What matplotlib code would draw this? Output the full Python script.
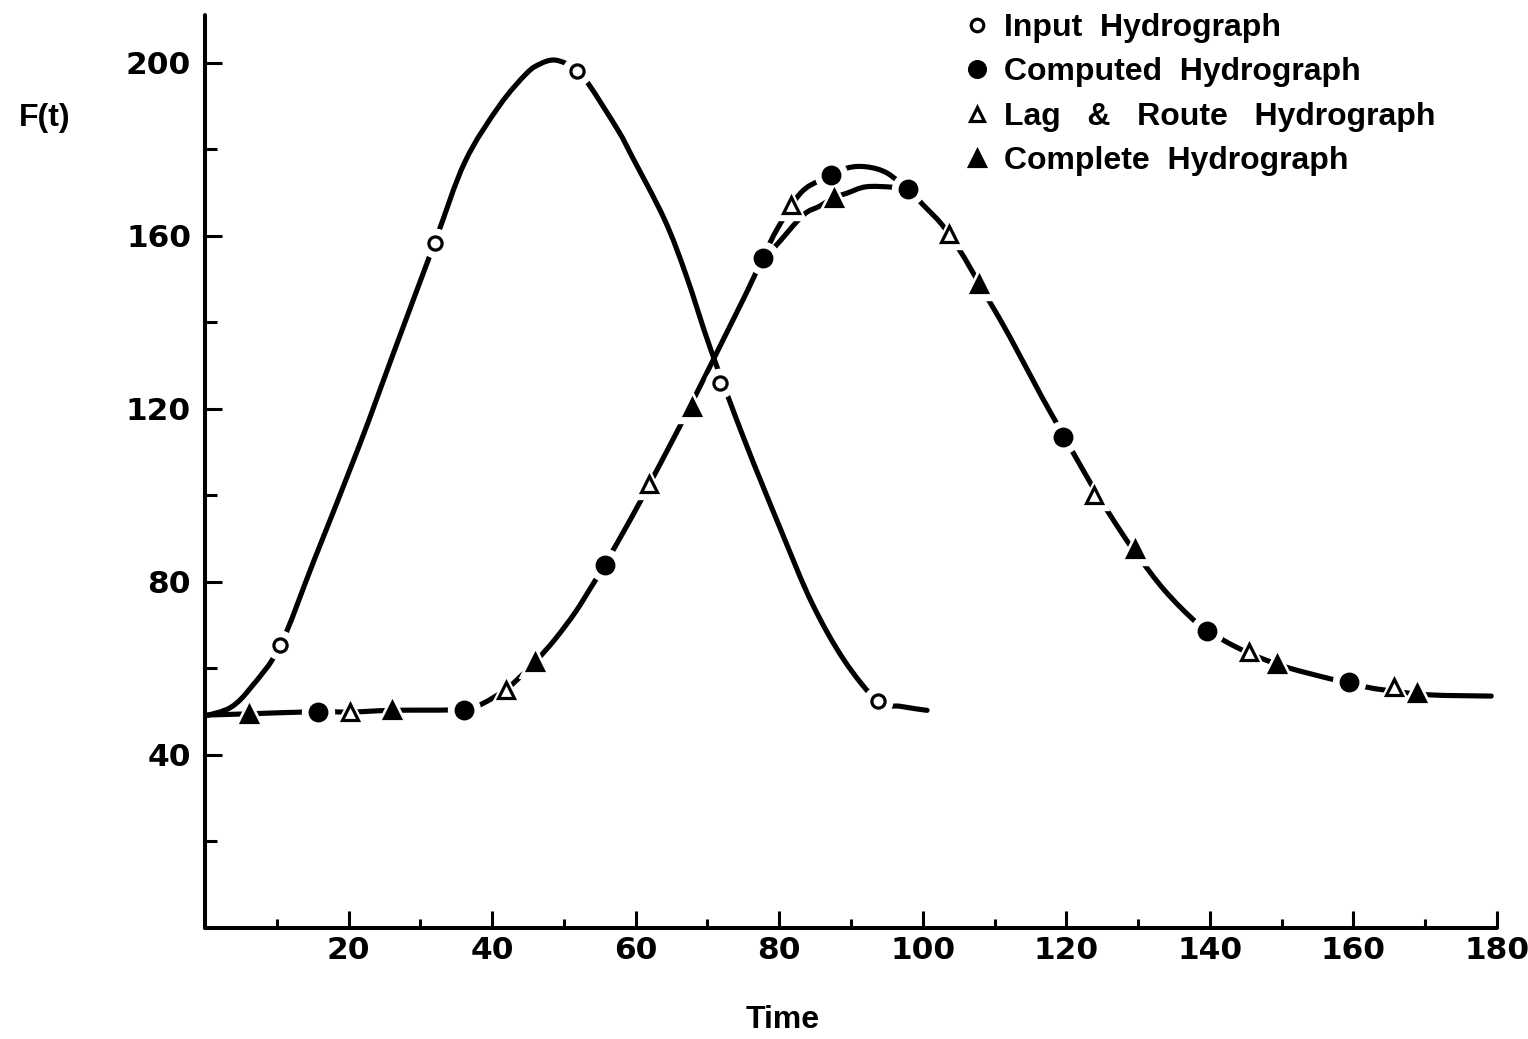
import matplotlib
matplotlib.use("Agg")
import matplotlib.pyplot as plt
from matplotlib.ticker import FixedLocator
from matplotlib.path import Path
from matplotlib.patches import PathPatch

plt.rcParams['font.family'] = ['Liberation Sans', 'DejaVu Sans']
plt.rcParams['font.weight'] = 'bold'

# ---------------- data ----------------
# curve of the input hydrograph
input_curve_t = [0, 3.6, 6.5, 10.5, 15.2, 21.5, 26.4, 32.0, 36.2, 41.0, 44.8, 46.7,
                 48.5, 50.3, 51.8, 53.5, 57.6, 59.4, 64.0, 67.0, 70.5, 75.2, 80.2,
                 84.5, 89.0, 93.7, 97.0, 100.6]
input_curve_f = [49.0, 51.0, 55.8, 65.3, 85.0, 111.5, 133.5, 158.4, 177.0, 190.0, 197.5, 199.7,
                 200.6, 199.8, 198.1, 194.9, 184.2, 178.6, 163.8, 151.0, 133.5, 112.6, 92.1,
                 75.3, 62.0, 52.5, 51.2, 50.3]

# curve through the routed hydrographs (lower branch = complete)
complete_curve_t = [0, 6.1, 15.8, 20.2, 26.0, 36.1, 38.6, 41.9, 44.0, 46.0, 48.8, 51.6,
                    53.8, 55.7, 59.3, 61.8, 64.6, 67.8, 72.3, 75.2, 77.8, 79.5, 83.3,
                    85.6, 87.6, 89.4, 92.1, 95.8, 97.9, 100.0, 102.7, 105.0, 106.7,
                    109.4, 112.1, 116.6, 119.4, 120.9, 123.8, 125.5, 128.0, 129.7,
                    133.7, 138.2, 141.4, 143.7, 146.9, 151.0, 157.0, 161.2, 163.9,
                    170.4, 179.2]
complete_curve_f = [49.2, 49.5, 50.0, 49.9, 50.3, 50.5, 51.8, 55.1, 58.2, 61.5, 66.8, 73.0,
                    78.8, 84.0, 94.5, 102.2, 111.0, 121.3, 136.3, 146.0, 154.8, 157.6, 164.7,
                    166.8, 168.8, 169.8, 171.3, 171.2, 170.7, 167.2, 162.5, 157.0, 152.3,
                    144.5, 136.7, 122.7, 114.5, 110.0, 101.6, 97.0, 90.6, 86.6,
                    78.0, 70.5, 67.0, 64.9, 62.5, 60.1, 57.5, 55.9, 55.1,
                    53.9, 53.6]

# upper branch near the peak (computed hydrograph)
computed_peak_t = [77.8, 79.5, 82.9, 85.9, 89.4, 92.2, 95.0, 97.9]
computed_peak_f = [154.8, 160.9, 169.7, 173.0, 175.6, 175.9, 174.5, 170.7]

# plotted symbols
input_t = [10.5, 32.0, 51.8, 71.8, 93.7]
input_f = [65.3, 158.4, 198.1, 126.0, 52.5]

computed_t = [15.8, 36.1, 55.7, 77.8, 87.2, 97.9, 119.6, 139.6, 159.4]
computed_f = [50.0, 50.3, 84.0, 154.8, 174.0, 170.7, 113.5, 68.7, 56.8]

lag_t = [20.2, 41.9, 61.8, 81.7, 103.7, 123.9, 145.4, 165.6]
lag_f = [49.9, 55.1, 102.5, 167.2, 160.5, 100.0, 63.8, 55.6]

complete_t = [6.1, 26.0, 46.0, 67.8, 87.6, 107.8, 129.6, 149.4, 168.9]
complete_f = [49.5, 50.3, 61.5, 120.5, 168.8, 148.8, 87.5, 61.0, 54.2]

labels = ["Input  Hydrograph", "Computed  Hydrograph",
          "Lag   &   Route   Hydrograph", "Complete  Hydrograph"]

x_major = [20, 40, 60, 80, 100, 120, 140, 160, 180]
x_minor = [10, 30, 50, 70, 90, 110, 130, 150, 170]
y_major = [40, 80, 120, 160, 200]
y_minor = [20, 60, 100, 140, 180]


def smooth_path(xs, ys):
    """Hand-drawn look: Catmull-Rom curve rendered through the read points."""
    pts = list(zip(xs, ys))
    n = len(pts)
    verts = [pts[0]]
    codes = [Path.MOVETO]
    for i in range(n - 1):
        p0 = pts[i - 1] if i > 0 else pts[i]
        p1 = pts[i]
        p2 = pts[i + 1]
        p3 = pts[i + 2] if i + 2 < n else pts[i + 1]
        c1 = (p1[0] + (p2[0] - p0[0]) / 6.0, p1[1] + (p2[1] - p0[1]) / 6.0)
        c2 = (p2[0] - (p3[0] - p1[0]) / 6.0, p2[1] - (p3[1] - p1[1]) / 6.0)
        verts += [c1, c2, p2]
        codes += [Path.CURVE4] * 3
    return Path(verts, codes)


# ---------------- figure ----------------
W, H = 1528, 1039
fig = plt.figure(figsize=(W / 100, H / 100), dpi=100)
ax = fig.add_axes([205 / W, 1 - 928 / H, 1292 / W, 913 / H])
ax.set_xlim(0, 180)
ax.set_ylim(0, 211)

LW = 3.7
for xs, ys in [(input_curve_t, input_curve_f),
               (complete_curve_t, complete_curve_f),
               (computed_peak_t, computed_peak_f)]:
    ax.add_patch(PathPatch(smooth_path(xs, ys), fill=False, edgecolor='black',
                           lw=LW, capstyle='round', joinstyle='round', zorder=2))

series = [
    (input_t, input_f, 'o', 9.5, 'white'),
    (computed_t, computed_f, 'o', 12, 'black'),
    (lag_t, lag_f, '^', 11, 'white'),
    (complete_t, complete_f, '^', 12, 'black'),
]
# white halos to break the curve around each symbol
for t, f, m, ms, fc in series:
    ax.plot(t, f, ls='none', marker=m, ms=ms + 11, mfc='white', mec='white',
            zorder=3)
handles = []
for (t, f, m, ms, fc), lab in zip(series, labels):
    h, = ax.plot(t, f, ls='none', marker=m, ms=ms, mfc=fc, mec='black',
                 mew=2.3, zorder=4, label=lab)
    handles.append(h)

# axes styling
for s in ('top', 'right'):
    ax.spines[s].set_visible(False)
for s in ('left', 'bottom'):
    ax.spines[s].set_linewidth(2.9)
    ax.spines[s].set_capstyle('round')

ax.xaxis.set_major_locator(FixedLocator(x_major))
ax.xaxis.set_minor_locator(FixedLocator(x_minor))
ax.yaxis.set_major_locator(FixedLocator(y_major))
ax.yaxis.set_minor_locator(FixedLocator(y_minor))
ax.set_xticklabels([str(v) for v in x_major])
ax.set_yticklabels([str(v) for v in y_major])

ax.tick_params(axis='both', which='both', direction='in', width=2.2)
ax.tick_params(axis='x', which='major', length=12.5, pad=6)
ax.tick_params(axis='x', which='minor', length=6.5)
ax.tick_params(axis='y', which='major', length=12.5, pad=10)
ax.tick_params(axis='y', which='minor', length=8.5)
for lab in ax.get_xticklabels() + ax.get_yticklabels():
    lab.set_fontfamily(['DejaVu Sans'])
    lab.set_fontweight('bold')
    lab.set_fontsize(22.5)

leg = ax.legend(handles=handles, labels=labels, loc='upper left',
                bbox_to_anchor=(964 / W, 1 - 13 / H),
                bbox_transform=fig.transFigure, frameon=False, fontsize=23,
                handlelength=0.8, handletextpad=0.45, labelspacing=0.45,
                borderpad=0, borderaxespad=0, markerscale=0.95)

fig.text(45 / W, 1 - 118 / H, 'F(t)', ha='center', va='center', fontsize=23)
fig.text(783 / W, 1 - 1020 / H, 'Time', ha='center', va='center', fontsize=23)

fig.savefig('out.png', dpi=100, facecolor='white')
